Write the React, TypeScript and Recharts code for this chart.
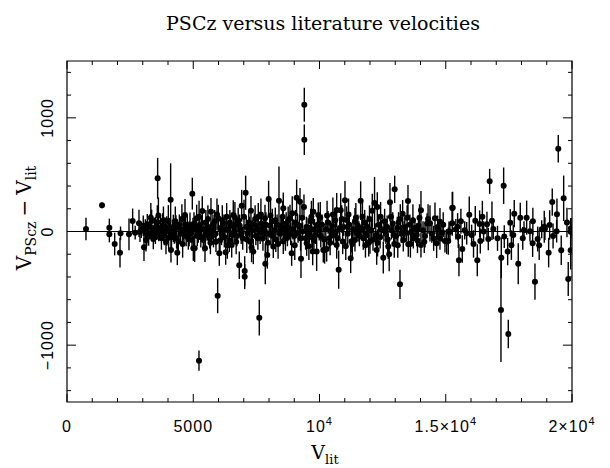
import React from 'react';
import { ScatterChart, Scatter, XAxis, YAxis, ErrorBar, ReferenceLine, ReferenceArea } from 'recharts';

// [V_lit, V_PSCz - V_lit, error]
const lowV: [number, number, number][] = [
  [752, 22, 100], [1386, 230, 25], [1677, 33, 80], [1677, -25, 70], [1888, -110, 100],
  [2099, -186, 130], [2120, -16, 60], [2455, -25, 140], [2600, 92, 110], [2700, -10, 60],
  [2851, 72, 120], [2891, -2, 90], [2943, 13, 70], [3049, -139, 120], [3101, 28, 80],
  [3128, -75, 100], [3180, 63, 90], [3234, -45, 80], [3287, 42, 110], [3353, 92, 100],
  [3353, -16, 70], [3418, -66, 90], [3500, 10, 120], [3551, 6, 80], [3577, 81, 150],
  [3590, 468, 180], [3630, -16, 70], [3700, 30, 100], [3788, 51, 110], [3850, -30, 90],
  [3894, 42, 80], [3950, 5, 130], [4013, 92, 140], [4026, -54, 100], [4105, 280, 320],
  [4118, -163, 110], [4180, 15, 90], [4211, 28, 120], [4250, -28, 80], [4316, 42, 100],
  [4369, -186, 110], [4409, -89, 120], [4450, 60, 90], [4500, -20, 70], [4550, 110, 130],
  [4607, 3, 80], [4633, 13, 100], [4673, 145, 140], [4720, -40, 90], [4765, 28, 120],
  [4805, -60, 100], [4871, 57, 110], [4900, -10, 80], [4950, -75, 90], [4963, 333, 140],
  [4990, 20, 100],
];

const midV: [number, number, number][] = [
  [5003, -148, 110], [5056, -148, 120], [5080, 40, 90], [5135, 116, 120], [5200, -20, 80],
  [5227, -1136, 88], [5260, 60, 100], [5300, -50, 90], [5358, 180, 130], [5400, -75, 100],
  [5420, 20, 80], [5465, -148, 120], [5500, 80, 110], [5550, -10, 70], [5600, 40, 100],
  [5650, -60, 90], [5702, 174, 120], [5750, 10, 80], [5800, -30, 110], [5850, 90, 100],
  [5900, -90, 90], [5967, -565, 154], [5992, 116, 120], [6032, -192, 110], [6080, 30, 90],
  [6120, -20, 100], [6180, 70, 80], [6230, -50, 90], [6284, -183, 110], [6324, 130, 120],
  [6380, 10, 80], [6430, -80, 100], [6480, 50, 90], [6522, -119, 110], [6585, 145, 130],
  [6620, 0, 80], [6680, 60, 100], [6730, -40, 90], [6780, 100, 110], [6823, -297, 120],
  [6870, 20, 80], [6918, 227, 140], [6960, -60, 100], [7037, -347, 130], [7037, -397, 110],
  [7075, 341, 150], [7100, 40, 90], [7150, -20, 80], [7200, 80, 110], [7250, -90, 100],
  [7286, 183, 130], [7340, 10, 90], [7379, -177, 110], [7420, 60, 100], [7480, -40, 80],
  [7530, 30, 90], [7576, 130, 120], [7615, -758, 158], [7650, -10, 100], [7700, 70, 90],
  [7760, -60, 110], [7800, 20, 80], [7841, 116, 120], [7853, -283, 180], [7900, -20, 90],
  [7933, -207, 120], [7985, 286, 160], [8030, 50, 100], [8080, -30, 90], [8130, 90, 110],
  [8170, -133, 100], [8220, 10, 80], [8270, -70, 110], [8320, 60, 90], [8395, 271, 300],
  [8440, -20, 100], [8500, 40, 80], [8566, 204, 140], [8566, -89, 110], [8620, 0, 90],
  [8680, 70, 100], [8730, -50, 80], [8780, 30, 110], [8831, 116, 120], [8897, -192, 110],
  [8950, 20, 90], [9000, -40, 100], [9050, 80, 110], [9095, 297, 160], [9150, -10, 90],
  [9200, 50, 100], [9227, 262, 120], [9267, -239, 170], [9330, 0, 80], [9385, 215, 110],
  [9398, 1115, 150], [9398, 807, 135], [9450, -60, 100], [9492, -104, 110], [9550, 30, 90],
  [9600, -20, 80], [9650, 90, 110], [9700, -50, 100], [9730, -177, 120], [9754, 174, 120],
  [9800, 20, 90], [9850, -30, 80], [9887, -177, 170], [9952, 145, 110], [9990, 10, 90],
];

const highV: [number, number, number][] = [
  [10050, -40, 100], [10100, 60, 90], [10150, -163, 110], [10204, -163, 120], [10250, 20, 80],
  [10283, -155, 110], [10340, 80, 100], [10389, -60, 90], [10440, 10, 80], [10500, 50, 110],
  [10560, -30, 90], [10620, 100, 100], [10680, 189, 150], [10680, -119, 120], [10759, -336, 168],
  [10800, 30, 90], [10839, 186, 150], [10918, -89, 110], [10960, 40, 80], [11009, 274, 170],
  [11076, 101, 120], [11120, -20, 90], [11180, 60, 100], [11235, -236, 130], [11273, -85, 100],
  [11330, 20, 90], [11405, 86, 120], [11405, -75, 100], [11460, -10, 80], [11520, 50, 100],
  [11580, -40, 90], [11630, 271, 170], [11680, 30, 80], [11734, -60, 100], [11790, 80, 110],
  [11850, -20, 90], [11900, 40, 100], [11950, -100, 120], [11999, -85, 110], [12050, 10, 80],
  [12090, 183, 150], [12180, 250, 230], [12230, -30, 100], [12264, -163, 130], [12289, 215, 130],
  [12340, 60, 90], [12400, -50, 100], [12460, 20, 80], [12526, -230, 140], [12580, 90, 110],
  [12630, -20, 90], [12680, 40, 100], [12724, -133, 110], [12760, -200, 150], [12791, 257, 170],
  [12850, 10, 80], [12900, 70, 100], [12962, -110, 120], [12977, 371, 120], [13030, -40, 90],
  [13080, 30, 100], [13130, 80, 90], [13187, -465, 128], [13240, -20, 80], [13293, 157, 120],
  [13318, -75, 100], [13380, 40, 90], [13440, -10, 80], [13504, 268, 140], [13516, -113, 110],
  [13580, 60, 90], [13640, 0, 100], [13714, -60, 90], [13780, 30, 80], [13850, -30, 100],
  [13920, 50, 90], [14018, 186, 170], [14018, -119, 110], [14100, 10, 80], [14180, -40, 100],
  [14260, 70, 90], [14375, 72, 160], [14450, -20, 80], [14573, 116, 140], [14639, -104, 130],
  [14700, 20, 90], [14771, 86, 120], [14771, -60, 100], [14850, -10, 80], [14969, -84, 100],
];

const topV: [number, number, number][] = [
  [15036, -89, 110], [15100, -84, 120], [15127, -2, 90], [15167, -2, 80], [15258, 207, 140],
  [15258, 72, 110], [15274, 210, 140], [15400, 20, 90], [15470, 42, 120], [15496, -45, 100],
  [15523, -253, 140], [15655, -154, 120], [15750, 10, 80], [15829, -16, 100], [15931, 148, 160],
  [16025, -30, 90], [16169, 95, 130], [16249, -253, 140], [16342, 66, 120], [16368, -84, 110],
  [16500, 0, 90], [16632, 63, 110], [16685, -66, 100], [16739, 441, 110], [16830, 95, 170],
  [16883, 22, 90], [17187, -690, 457], [17200, -230, 180], [17293, 403, 160], [17318, -45, 100],
  [17452, -177, 120], [17477, -902, 125], [17555, 78, 120], [17674, -30, 90], [17713, 157, 120],
  [17871, -283, 180], [17951, 122, 130], [18100, 10, 80], [18204, 122, 150], [18335, 3, 90],
  [18441, -104, 120], [18533, -441, 160], [18640, -66, 110], [18800, 20, 80], [18901, 42, 140],
  [18929, 25, 100], [19075, -186, 130], [19115, 57, 130], [19218, 259, 120], [19392, 3, 100],
  [19404, 151, 140], [19456, 728, 120], [19574, -165, 130], [19670, 292, 200], [19851, -418, 150],
  [19947, -165, 170], [19947, -2, 120], [19958, 28, 90],
];

const denseV: [number, number, number][] = [
  [3020, 50, 90], [3160, -20, 110], [3320, 120, 130], [3460, 30, 90], [3620, 140, 160],
  [3740, -60, 100], [3820, 100, 120], [3920, -90, 110], [4060, 40, 80], [4140, -40, 100],
  [4290, 90, 130], [4340, -60, 90], [4480, 20, 100], [4580, -110, 120], [4690, 60, 90],
  [4840, -20, 110], [5030, 70, 100], [5160, -40, 90], [5230, 130, 140], [5330, 20, 100],
  [5480, -30, 110], [5580, 110, 120], [5680, -100, 100], [5780, 60, 90], [5880, -20, 100],
  [5940, 150, 140], [6060, -80, 110], [6150, 100, 130], [6260, 20, 90], [6350, -120, 120],
  [6450, 80, 110], [6550, -30, 100], [6650, 120, 140], [6700, -90, 110], [6840, 50, 100],
  [6900, -20, 90], [7010, 130, 150], [7120, -70, 120], [7230, 40, 90], [7310, -140, 130],
  [7450, 110, 120], [7560, -60, 100], [7680, 150, 140], [7730, 0, 90], [7880, 60, 110],
  [7960, -100, 120], [8060, 140, 150], [8150, -40, 100], [8250, 100, 110], [8360, -110, 130],
  [8470, 20, 90], [8540, 130, 140], [8650, -60, 110], [8760, 100, 120], [8860, -20, 100],
  [8920, 160, 150], [9020, -120, 130], [9120, 60, 100], [9250, -60, 110], [9310, 120, 120],
  [9480, 40, 90], [9580, -130, 120], [9680, 130, 140], [9780, -80, 110], [9920, 60, 100],
  [10030, 120, 140], [10180, -70, 100], [10300, 140, 130], [10420, -100, 110], [10530, 150, 150],
  [10650, 0, 90], [10720, -60, 100], [10880, 110, 120], [11040, -130, 120], [11150, 150, 140],
  [11300, -110, 110], [11440, 120, 130], [11560, 0, 90], [11700, 130, 140], [11820, -120, 110],
  [11980, 110, 120], [12120, -70, 100], [12300, -100, 120], [12420, 130, 130], [12550, 10, 100],
  [12700, -70, 110], [12830, 130, 140], [12940, -30, 90], [13100, -120, 110], [13200, 110, 130],
  [13350, 0, 90], [13470, 120, 110], [13600, -110, 120], [13700, 100, 140], [13880, -80, 110],
  [13960, 120, 120], [14150, -90, 100], [14300, 110, 130], [14520, -60, 110], [14680, 40, 100],
  [14900, 60, 110], [15600, 90, 110], [16100, -110, 120], [16450, 130, 140], [17050, -60, 110],
  [17600, -120, 130], [18050, -60, 100], [18450, 90, 120], [18700, -120, 130], [19250, -40, 110],
  [19800, 80, 130],
];

const xTicks = [0, 1000, 2000, 3000, 4000, 5000, 6000, 7000, 8000, 9000, 10000, 11000, 12000, 13000, 14000, 15000, 16000, 17000, 18000, 19000, 20000];
const xMajor = [0, 5000, 10000, 15000, 20000];
const yTicks = [-1400, -1200, -1000, -800, -600, -400, -200, 0, 200, 400, 600, 800, 1000, 1200, 1400];
const yMajor = [-1000, 0, 1000];

const data = [...lowV, ...midV, ...highV, ...topV, ...denseV].map(([v, d, e]) => ({ v, d, e }));

const W = 610;
const H = 468;
const PLOT_LEFT = 67;
const PLOT_RIGHT = 572;
const PLOT_TOP = 61;
const PLOT_BOTTOM = 402;

const TICK_FONT = "'Liberation Sans', Arial, sans-serif";
const SERIF = "'DejaVu Serif', serif";

function xLabel(v: number, x: number, y: number) {
  const common = { x, y, textAnchor: 'middle' as const, fontFamily: TICK_FONT, fontSize: 16, letterSpacing: 1, fill: '#000' };
  if (v === 10000) return <text {...common}>10<tspan dy={-7} fontSize={11}>4</tspan></text>;
  if (v === 15000) return <text {...common}>1.5×10<tspan dy={-7} fontSize={11}>4</tspan></text>;
  if (v === 20000) return <text {...common}>2×10<tspan dy={-7} fontSize={11}>4</tspan></text>;
  return <text {...common}>{String(v)}</text>;
}

function XTick(props: any) {
  const { x, payload } = props;
  const v = payload.value;
  const major = xMajor.includes(v);
  const len = major ? 8 : 4;
  return (
    <g>
      <line x1={x} x2={x} y1={PLOT_BOTTOM} y2={PLOT_BOTTOM - len} stroke="#000" strokeWidth={1} />
      <line x1={x} x2={x} y1={PLOT_TOP} y2={PLOT_TOP + len} stroke="#000" strokeWidth={1} />
      {major && xLabel(v, x, PLOT_BOTTOM + 30)}
    </g>
  );
}

function YTick(props: any) {
  const { y, payload } = props;
  const v = payload.value;
  const major = yMajor.includes(v);
  const len = major ? 9 : 4;
  const lx = 53;
  const label = v < 0 ? '\u2212' + String(-v) : String(v);
  return (
    <g>
      <line x1={PLOT_LEFT} x2={PLOT_LEFT + len} y1={y} y2={y} stroke="#000" strokeWidth={1} />
      <line x1={PLOT_RIGHT} x2={PLOT_RIGHT - len} y1={y} y2={y} stroke="#000" strokeWidth={1} />
      {major && (
        <text x={lx} y={y} transform={`rotate(-90, ${lx}, ${y})`} textAnchor="middle" fontFamily={TICK_FONT} fontSize={16} letterSpacing={1} fill="#000">
          {label}
        </text>
      )}
    </g>
  );
}

const Dot = (p: any) => <circle cx={p.cx} cy={p.cy} r={3} fill="#000" />;

export default function App() {
  return (
    <div style={{ position: 'absolute', left: 0, top: 0, width: W, height: H, background: '#fff' }}>
      <ScatterChart width={W} height={H} margin={{ top: PLOT_TOP, right: W - PLOT_RIGHT, bottom: 0, left: 0 }}>
        <XAxis type="number" dataKey="v" domain={[0, 20000]} allowDataOverflow ticks={xTicks} interval={0}
          tick={<XTick />} tickLine={false} axisLine={false} tickSize={0} tickMargin={0} height={H - PLOT_BOTTOM} />
        <YAxis type="number" dataKey="d" domain={[-1500, 1500]} allowDataOverflow ticks={yTicks} interval={0}
          tick={<YTick />} tickLine={false} axisLine={false} tickSize={0} tickMargin={0} width={PLOT_LEFT} />
        <ReferenceArea x1={0} x2={20000} y1={-1500} y2={1500} fill="none" fillOpacity={0} stroke="#000" strokeWidth={1.2} />
        <ReferenceLine y={0} stroke="#000" strokeWidth={1.2} />
        <Scatter data={data} dataKey="d" isAnimationActive={false} shape={Dot}>
          <ErrorBar dataKey="e" direction="y" width={0} stroke="#000" strokeWidth={1.4} isAnimationActive={false} />
        </Scatter>
      </ScatterChart>
      <svg width={W} height={H} style={{ position: 'absolute', left: 0, top: 0, pointerEvents: 'none' }}>
        <text x={323} y={30} textAnchor="middle" fontFamily={SERIF} fontSize={19} fill="#000">PSCz versus literature velocities</text>
        <text x={325} y={459} textAnchor="middle" fontFamily={SERIF} fontSize={19} fill="#000">
          V<tspan fontSize={13} dy={5}>lit</tspan>
        </text>
        <text x={31} y={218} transform="rotate(-90, 31, 218)" textAnchor="middle" fontFamily={SERIF} fontSize={20} fill="#000">
          V<tspan fontSize={14} dy={5}>PScz</tspan><tspan dy={-5} dx={5} fontSize={20}>{'\u2212'}</tspan><tspan dx={5} fontSize={20}>V</tspan><tspan fontSize={14} dy={5}>lit</tspan>
        </text>
      </svg>
    </div>
  );
}
